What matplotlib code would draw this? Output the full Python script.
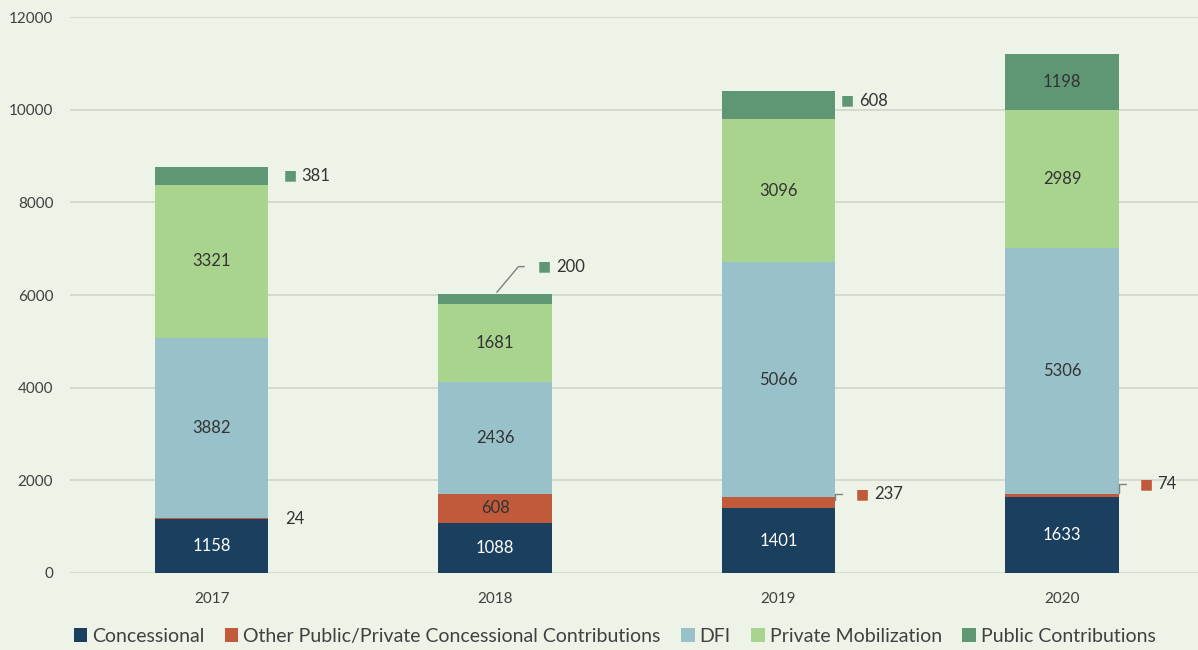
import numpy as np
import matplotlib
matplotlib.use("Agg")
import matplotlib.pyplot as plt
from matplotlib.patches import Patch

plt.rcParams['font.family'] = ['Lato', 'DejaVu Sans']

years = ['2017', '2018', '2019', '2020']
series = ['Concessional', 'Other Public/Private Concessional Contributions',
          'DFI', 'Private Mobilization', 'Public Contributions']
concessional = [1158, 1088, 1401, 1633]
other = [24, 608, 237, 74]
dfi = [3882, 2436, 5066, 5306]
private_mob = [3321, 1681, 3096, 2989]
public_contrib = [381, 200, 608, 1198]

colors = ['#1b3f5e', '#c15a3b', '#98c1c9', '#a9d48e', '#5f9775']
text_colors = ['white', '#333333', '#333333', '#333333', '#333333']
bg = '#edf3e6'

data = np.array([concessional, other, dfi, private_mob, public_contrib], dtype=float)
x = np.arange(len(years))

fig = plt.figure(figsize=(11.98, 6.5), dpi=100, facecolor=bg)
ax = fig.add_axes([0.0584, 0.1185, 0.9416, 0.8553], facecolor=bg)

bottoms = np.zeros(len(years))
for i, name in enumerate(series):
    ax.bar(x, data[i], bottom=bottoms, width=0.4, color=colors[i], zorder=3)
    bottoms += data[i]

ax.set_ylim(0, 12000)
ax.set_xlim(-0.5, 3.48)
ax.set_yticks(range(0, 12001, 2000))
ax.yaxis.grid(True, color='#cfd6c9', linewidth=1.2, zorder=0)
ax.set_xticks(x)
ax.set_xticklabels(years)
ax.tick_params(axis='both', length=0, labelsize=11, colors='#404040')
ax.tick_params(axis='y', pad=12)
ax.tick_params(axis='x', pad=14)
for s in ax.spines.values():
    s.set_visible(False)

cum = np.cumsum(data, axis=0)
mids = cum - data / 2

# outside labels: (series index, year index, dx points, dy points, leader)
outside = [(4, 0, 11, 0, False), (1, 0, 12, 0, None),
           (4, 1, 31, 20, True), (4, 2, 4, 3, False),
           (1, 2, 15, 6, True), (1, 3, 15, 8, True)]
outside_keys = {(i, j) for i, j, *_ in outside}

# labels inside bars
for i in range(len(series)):
    for j in range(len(years)):
        if (i, j) not in outside_keys:
            ax.text(x[j], mids[i, j], f'{int(data[i, j])}', ha='center', va='center',
                    fontsize=12, color=text_colors[i], zorder=4)

half = 0.2
for i, j, dx, dy, leader in outside:
    if leader is None:
        ax.annotate(f'{int(data[i, j])}', xy=(x[j] + half, mids[i, j]),
                    xytext=(dx, dy), textcoords='offset points', ha='left', va='center',
                    fontsize=12, color='#333333')
        continue
    if i == 4 and leader:
        xy = (x[j], cum[i, j])
    else:
        xy = (x[j] + half, mids[i, j])
    if leader:
        ax.annotate('', xy=xy, xytext=(dx - 8, dy), textcoords='offset points',
                    arrowprops=dict(arrowstyle='-', color='#7f7f7f', lw=1,
                                    connectionstyle='angle,angleA=0,angleB=50,rad=0'
                                    if i == 4 else 'angle,angleA=0,angleB=90,rad=0'))
    ax.annotate('\u25a0', xy=xy, xytext=(dx, dy), textcoords='offset points',
                ha='left', va='center', fontsize=10, color=colors[i],
                family='DejaVu Sans')
    ax.annotate(f'{int(data[i, j])}', xy=xy, xytext=(dx + 13, dy), textcoords='offset points',
                ha='left', va='center', fontsize=12, color='#333333')

handles = [Patch(facecolor=c, edgecolor='none') for c in colors]
fig.legend(handles, series, loc='center', bbox_to_anchor=(0.513, 0.021), ncol=5,
           frameon=False, fontsize=14, handlelength=0.7, handleheight=0.7,
           handletextpad=0.25, columnspacing=1.05, labelcolor='#404040')

fig.savefig('out.png', dpi=100, facecolor=bg)
